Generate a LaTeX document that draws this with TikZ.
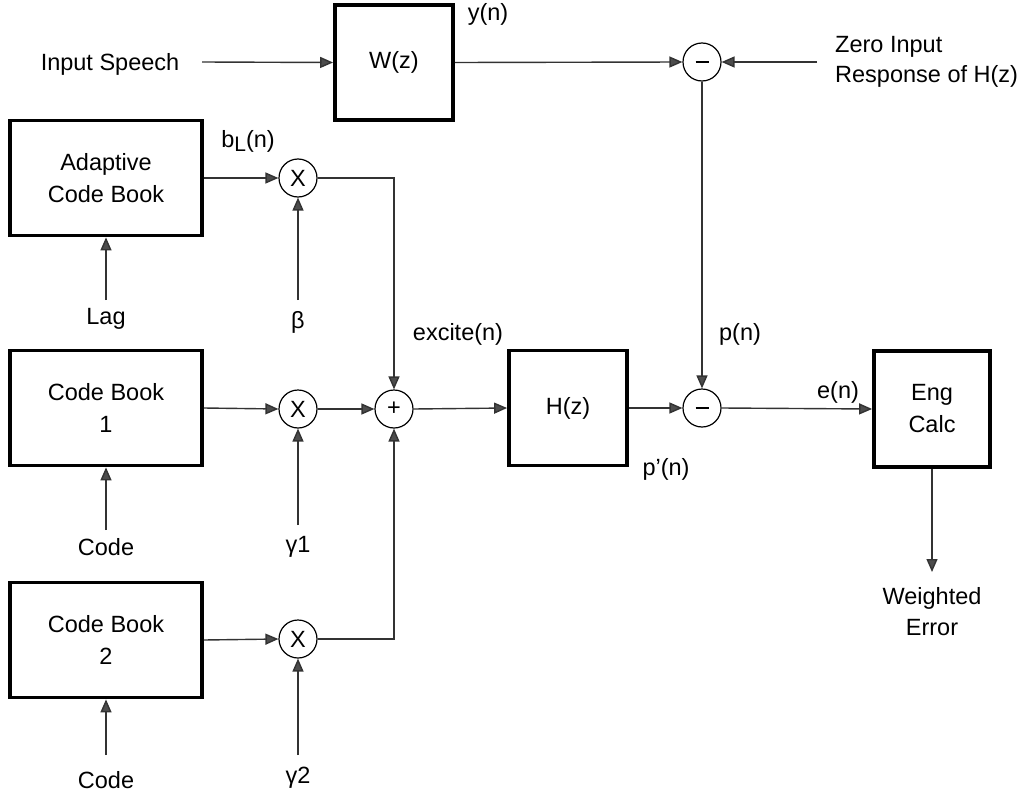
\documentclass[tikz,border=0pt]{standalone}
\usepackage{fontspec}
\setmainfont{Liberation Sans}
\usetikzlibrary{arrows.meta}
\begin{document}
\begin{tikzpicture}[x=1pt,y=-1pt,
  every node/.style={font=\fontsize{23.5}{28}\selectfont, inner sep=0pt},
  blk/.style={draw=black, line width=3.8pt, minimum width=#1, minimum height=115pt, align=center},
  blk/.default=192pt,
  junc/.style={draw=black, line width=1.2pt, circle, minimum size=38pt},
  lbl/.style={align=center},
  sig/.style={draw=black!80, line width=1.4pt, -{Triangle[length=13pt,width=11pt,fill=black!70]}},
  wire/.style={draw=black!80, line width=1.4pt}]
\useasboundingbox (0,0) rectangle (1026,795);
% blocks
\node[blk=118pt] (W) at (394,62.5) {W(z)};
\node[blk] (ACB) at (106,178) {Adaptive\\[4pt]Code Book};
\node[blk] (CB1) at (106,408) {Code Book\\[4pt]1};
\node[blk] (CB2) at (106,640) {Code Book\\[4pt]2};
\node[blk=118pt] (H) at (568,408) {H(z)};
\node[blk=116pt, minimum height=116pt] (E) at (932,409) {Eng\\[4pt]Calc};
% junctions
\node[junc] (mA) at (298,178) {X};
\node[junc] (m1) at (298,409) {X};
\node[junc] (m2) at (298,639) {X};
\node[junc] (sum) at (394,409) {+};
\node[junc] (s1) at (702,62) {\rule{13pt}{1.3pt}};
\node[junc] (s2) at (702,408) {\rule{13pt}{1.3pt}};
% labels
\node[lbl] (tin) at (110,64) {Input Speech};
\node[lbl] (ty) at (488,14) {y(n)};
\node[lbl, anchor=west, align=left] (tz) at (835,62) {Zero Input\\[2pt]Response of H(z)};
\node[lbl] (tb) at (248,141) {b\raisebox{-0.35ex}{\fontsize{21}{24}\selectfont L}(n)};
\node[lbl] (tlag) at (106,319) {Lag};
\node[lbl] (tbeta) at (298,322) {β};
\node[lbl] (tex) at (458,334) {excite(n)};
\node[lbl] (tp) at (740,334) {p(n)};
\node[lbl] (tc1) at (106,547) {Code};
\node[lbl] (tg1) at (298,547) {γ1};
\node[lbl] (tpp) at (666,469) {p’(n)};
\node[lbl] (te) at (838,392) {e(n)};
\node[lbl] (tw) at (932,612) {Weighted\\[3pt]Error};
\node[lbl] (tc2) at (106,780) {Code};
\node[lbl] (tg2) at (298,778) {γ2};
% free ends
\coordinate (inS) at (202,62);
\coordinate (zS) at (817,62);
\coordinate (lagS) at (106,300);
\coordinate (betaS) at (298,300);
\coordinate (c1S) at (106,530);
\coordinate (g1S) at (298,525);
\coordinate (c2S) at (106,755);
\coordinate (g2S) at (298,755);
\coordinate (wE) at (932,572);
% connectors
\draw[sig] (inS) -- (W.west);
\draw[sig] (W.east) -- (s1.west);
\draw[sig] (zS) -- (s1.east);
\draw[sig] (s1.south) -- (s2.north);
\draw[sig] (ACB.east) -- (mA.west);
\draw[sig] (mA.east) -| (sum.north);
\draw[sig] (lagS) -- (ACB.south);
\draw[sig] (betaS) -- (mA.south);
\draw[sig] (CB1.east) -- (m1.west);
\draw[sig] (m1.east) -- (sum.west);
\draw[sig] (sum.east) -- (H.west);
\draw[sig] (H.east) -- (s2.west);
\draw[sig] (s2.east) -- (E.west);
\draw[sig] (c1S) -- (CB1.south);
\draw[sig] (g1S) -- (m1.south);
\draw[sig] (CB2.east) -- (m2.west);
\draw[sig] (m2.east) -| (sum.south);
\draw[sig] (c2S) -- (CB2.south);
\draw[sig] (g2S) -- (m2.south);
\draw[sig] (E.south) -- (wE);
\end{tikzpicture}
\end{document}
